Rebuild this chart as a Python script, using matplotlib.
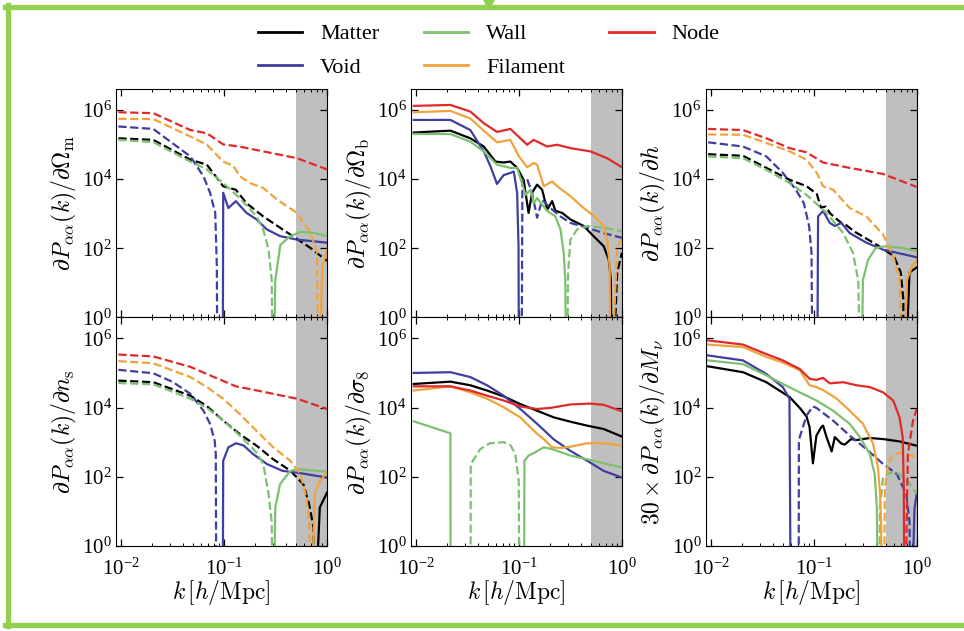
import numpy as np
import matplotlib
matplotlib.use('Agg')
import matplotlib.pyplot as plt
from matplotlib.lines import Line2D
from matplotlib.patches import Polygon

plt.rcParams['font.family'] = 'serif'
plt.rcParams['font.serif'] = ['Liberation Serif', 'DejaVu Serif']
plt.rcParams['mathtext.fontset'] = 'stix'

tracers = ['Matter', 'Void', 'Wall', 'Filament', 'Node']
colors = ['black', '#3f3fa0', '#7bc16f', '#f0a33c', '#e02a2a']

# signed derivatives (negative -> dashed)
# --- d/dOmega_m
k_om_mat = [0.0094, 0.0205, 0.047, 0.068, 0.098, 0.13, 0.165, 0.24, 0.37, 0.51, 0.69, 1.0]
v_om_mat = [-1.5e5, -1.35e5, -3.6e4, -2.6e4, -6.2e3, -4.9e3, -2.0e3, -830, -350, -186, -102, -43]
k_om_void = [0.0094, 0.0205, 0.047, 0.063, 0.073, 0.082, 0.085, 0.086, 0.097, 0.098, 0.11, 0.13, 0.165, 0.207, 0.26, 0.35, 0.51, 1.0]
v_om_void = [-3.3e5, -2.8e5, -4.5e4, -1.2e4, -4e3, -1.05e3, -30, -0.01, 0.01, 4e3, 1.45e3, 2.3e3, 1.05e3, 680, 350, 224, 178, 145]
k_om_wall = [0.0094, 0.0205, 0.047, 0.068, 0.098, 0.142, 0.207, 0.24, 0.27, 0.29, 0.297, 0.303, 0.314, 0.352, 0.44, 0.55, 0.74, 1.0]
v_om_wall = [-1.35e5, -1.17e5, -3.2e4, -1.9e4, -7.6e3, -2.8e3, -830, -350, -91, -12, -0.01, 0.01, 12, 126, 224, 295, 280, 224]
k_om_fil = [0.0094, 0.0205, 0.047, 0.068, 0.098, 0.123, 0.142, 0.18, 0.24, 0.33, 0.51, 0.69, 0.80, 0.82, 0.83, 0.9, 1.0]
v_om_fil = [-5.5e5, -5.4e5, -1.7e5, -9.8e4, -3.2e4, -2.4e4, -1.2e4, -7.6e3, -5.5e3, -2.5e3, -1.05e3, -280, -74, -0.01, 0.01, 30, 90]
k_om_node = [0.0094, 0.0205, 0.047, 0.068, 0.098, 0.14, 0.51, 1.0]
v_om_node = [-8.5e5, -8e5, -2.6e5, -2.1e5, -1.0e5, -8.7e4, -4e4, -1.9e4]

# --- d/dOmega_b
k_ob_mat = [0.0095, 0.0216, 0.0337, 0.0455, 0.059, 0.071, 0.0826, 0.096, 0.111, 0.124, 0.134, 0.15, 0.168, 0.188, 0.21, 0.226, 0.263, 0.316, 0.425, 0.53, 0.665, 0.745, 0.78, 0.80, 0.81, 0.9, 1.0]
v_ob_mat = [2.2e5, 2.5e5, 1.5e5, 8.7e4, 3.2e4, 3e4, 3.2e4, 2.1e4, 9.5e3, 1.05e3, 4e3, 6.9e3, 4.9e3, 1.3e3, 2.3e3, 1.2e3, 1.05e3, 680, 440, 224, 115, 47, 12.6, 0.01, -0.01, -20, -74]
k_ob_void = [0.0095, 0.0216, 0.0337, 0.0455, 0.053, 0.0612, 0.071, 0.0826, 0.089, 0.096, 0.099, 0.1, 0.106, 0.108, 0.12, 0.134, 0.15, 0.168, 0.202, 0.253, 0.316, 0.46, 0.665, 1.0]
v_ob_void = [5.1e5, 5.1e5, 2.6e5, 6.3e4, 2.3e4, 7.2e3, 1.3e4, 1.5e4, 1.65e4, 4e3, 115, 0.01, -0.01, -9.5e3, -1e4, -4e3, -760, -2.5e3, -1.45e3, -830, -540, -390, -275, -200]
k_ob_wall = [0.0095, 0.0216, 0.0337, 0.0455, 0.0612, 0.0826, 0.096, 0.116, 0.13, 0.139, 0.15, 0.188, 0.226, 0.253, 0.272, 0.282, 0.288, 0.292, 0.3, 0.316, 0.367, 0.46, 0.665, 1.0]
v_ob_wall = [2e5, 2e5, 1.2e5, 6.3e4, 2.6e4, 2.1e4, 2.1e4, 3.5e3, 4.9e3, 2e3, 2.8e3, 1.2e3, 830, 350, 74, 12, 0.01, -0.01, -20, -178, -350, -440, -390, -310]
k_ob_fil = [0.0095, 0.0216, 0.0337, 0.0455, 0.0612, 0.0826, 0.1, 0.12, 0.139, 0.15, 0.174, 0.21, 0.24, 0.316, 0.425, 0.56, 0.665, 0.72, 0.76, 0.775, 0.785, 0.9, 1.0]
v_ob_fil = [8.5e5, 9.3e5, 5.6e5, 2.5e5, 1.15e5, 1.35e5, 4.5e4, 2.2e4, 2.9e4, 2.6e4, 6.2e3, 8.5e3, 5.9e3, 3.2e3, 1.45e3, 760, 440, 178, 31, 0.01, -0.01, -115, -178]
k_ob_node = [0.0095, 0.0216, 0.0337, 0.0455, 0.0612, 0.0826, 0.12, 0.139, 0.188, 0.234, 0.316, 0.494, 0.718, 1.0]
v_ob_node = [1.3e6, 1.38e6, 8.9e5, 4.1e5, 2.3e5, 2.8e5, 9.8e4, 1.35e5, 8.7e4, 9.8e4, 7.8e4, 6.3e4, 4e4, 2.2e4]

# --- d/dh
k_h_mat = [0.0094, 0.0205, 0.0346, 0.0583, 0.085, 0.107, 0.117, 0.13, 0.145, 0.185, 0.2, 0.25, 0.43, 0.6, 0.7, 0.74, 0.75, 0.77, 0.85, 1.0]
v_h_mat = [-5.2e4, -4.7e4, -2.1e4, -9.5e3, -6.2e3, -3.7e3, -1.5e3, -1.6e3, -1e3, -540, -500, -300, -115, -59, -20, -3.3, -0.01, 0.01, 20, 28]
k_h_void = [0.0094, 0.0205, 0.0346, 0.05, 0.067, 0.08, 0.09, 0.095, 0.097, 0.108, 0.11, 0.123, 0.143, 0.16, 0.185, 0.223, 0.324, 0.471, 1.0]
v_h_void = [-1.15e5, -8.7e4, -4.5e4, -1.5e4, -4.9e3, -2e3, -440, -74, -0.01, 0.01, 830, 1.2e3, 540, 440, 540, 275, 145, 91, 55]
k_h_wall = [0.0094, 0.0205, 0.0346, 0.0583, 0.085, 0.133, 0.193, 0.24, 0.27, 0.285, 0.29, 0.3, 0.337, 0.4, 0.5, 0.72, 1.0]
v_h_wall = [-4.5e4, -4e4, -1.85e4, -7.6e3, -3.5e3, -1.05e3, -275, -74, -12, -0.01, 0.01, 12, 47, 102, 115, 102, 83]
k_h_fil = [0.0094, 0.0205, 0.0346, 0.0583, 0.085, 0.107, 0.123, 0.154, 0.223, 0.324, 0.471, 0.59, 0.68, 0.73, 0.75, 0.8, 0.9, 1.0]
v_h_fil = [-1.95e5, -1.9e5, -1.1e5, -6.3e4, -3.6e4, -1.5e4, -6.2e3, -4.9e3, -1.45e3, -830, -250, -59, -12, -0.01, 0.01, 12, 30, 45]
k_h_node = [0.0094, 0.0205, 0.0346, 0.0583, 0.085, 0.123, 0.223, 0.471, 1.0]
v_h_node = [-2.8e5, -2.6e5, -1.5e5, -7.8e4, -5.9e4, -3e4, -2.1e4, -1.4e4, -5.9e3]

# --- d/dn_s
k_ns_mat = [0.0094, 0.0205, 0.047, 0.068, 0.098, 0.142, 0.207, 0.3, 0.44, 0.59, 0.67, 0.74, 0.755, 0.765, 0.85, 1.0]
v_ns_mat = [-6e4, -5.4e4, -2.2e4, -1.1e4, -4.2e3, -1.7e3, -790, -320, -150, -60, -16, -3.3, -0.01, 0.01, 13, 35]
k_ns_void = [0.0094, 0.0205, 0.032, 0.047, 0.063, 0.073, 0.081, 0.083, 0.084, 0.097, 0.098, 0.11, 0.13, 0.155, 0.19, 0.26, 0.37, 0.51, 1.0]
v_ns_void = [-1.23e5, -9.8e4, -5.4e4, -2.5e4, -8.1e3, -3.4e3, -1.1e3, -460, -0.01, 0.01, 290, 710, 930, 800, 460, 234, 148, 132, 95]
k_ns_wall = [0.0094, 0.0205, 0.047, 0.068, 0.098, 0.142, 0.207, 0.24, 0.27, 0.29, 0.297, 0.303, 0.314, 0.35, 0.44, 0.51, 1.0]
v_ns_wall = [-5.1e4, -4.7e4, -1.8e4, -9.8e3, -4.2e3, -1.55e3, -500, -234, -32, -5, -0.01, 0.01, 13, 62, 148, 166, 140]
k_ns_fil = [0.0094, 0.0205, 0.047, 0.068, 0.098, 0.142, 0.207, 0.3, 0.44, 0.55, 0.63, 0.67, 0.7, 0.71, 0.76, 0.85, 1.0]
v_ns_fil = [-2.2e5, -1.9e5, -7.6e4, -3.9e4, -1.8e4, -6.5e3, -2.1e3, -710, -290, -120, -25, -5, -0.01, 0.01, 32, 76, 132]
k_ns_node = [0.0094, 0.0205, 0.047, 0.068, 0.13, 0.21, 0.51, 1.0]
v_ns_node = [-3.4e5, -3e5, -1.5e5, -9.3e4, -4.1e4, -3.1e4, -1.8e4, -9.1e3]

# --- d/dsigma_8
k_s8 = [0.0095, 0.0216, 0.0337, 0.049, 0.071, 0.103, 0.15, 0.218, 0.316, 0.46, 0.665, 1.0]
v_s8_mat = [4.8e4, 5.6e4, 4.4e4, 3.1e4, 2.1e4, 1.26e4, 8.1e3, 5.2e3, 3.9e3, 3e3, 2.4e3, 1.45e3]
v_s8_void = [1e5, 1.05e5, 7.6e4, 4.4e4, 2.2e4, 9.1e3, 3.4e3, 1.2e3, 560, 290, 148, 95]
k_s8_wall = [0.0095, 0.0216, 0.0217, 0.0339, 0.034, 0.042, 0.052, 0.071, 0.083, 0.092, 0.0995, 0.101, 0.112, 0.113, 0.124, 0.139, 0.174, 0.21, 0.316, 0.46, 0.665, 1.0]
v_s8_wall = [4e3, 1.8e3, 0.01, -0.01, -230, -630, -930, -1e3, -800, -460, -76, -0.01, 0.01, 290, 410, 480, 710, 630, 410, 320, 245, 186]
k_s8_fil = [0.0095, 0.0216, 0.0337, 0.049, 0.071, 0.103, 0.129, 0.15, 0.174, 0.21, 0.253, 0.316, 0.46, 0.665, 1.0]
v_s8_fil = [3.1e4, 4.1e4, 2.75e4, 1.8e4, 1.02e4, 5.2e3, 2.7e3, 1.74e3, 1.23e3, 710, 680, 740, 930, 930, 800]
k_s8_node = [0.0095, 0.0216, 0.0337, 0.049, 0.071, 0.103, 0.15, 0.204, 0.316, 0.494, 0.665, 1.0]
v_s8_node = [4.1e4, 4.1e4, 3.1e4, 2.2e4, 1.6e4, 1.07e4, 9.1e3, 9.8e3, 1.23e4, 1.3e4, 1.2e4, 7.8e3]

# --- 30 x d/dM_nu
k_mn_mat = [0.0094, 0.0205, 0.0346, 0.0583, 0.073, 0.085, 0.091, 0.098, 0.106, 0.118, 0.123, 0.133, 0.149, 0.16, 0.185, 0.2, 0.23, 0.26, 0.35, 0.47, 0.68, 1.0]
v_mn_mat = [1.55e5, 1.05e5, 5.4e4, 2.0e4, 9.8e3, 5.5e3, 2.7e3, 245, 1.55e3, 2.7e3, 3e3, 1.4e3, 540, 1.4e3, 910, 850, 1.23e3, 1.15e3, 1.32e3, 1.23e3, 1.05e3, 790]
k_mn_void = [0.0094, 0.0205, 0.0346, 0.05, 0.058, 0.0597, 0.0712, 0.0716, 0.073, 0.085, 0.098, 0.106, 0.154, 0.223, 0.324, 0.471, 0.64, 0.79, 0.85, 0.87, 0.89, 0.95, 1.0]
v_mn_void = [3.2e5, 2.3e5, 9.3e4, 3.9e4, 1.8e4, 0.01, -0.01, -1e3, -1.4e3, -5.9e3, -1.07e4, -9.8e3, -4.2e3, -1.55e3, -630, -234, -120, -32, -5, -0.01, 0.01, 12, 32]
k_mn_wall = [0.0094, 0.0205, 0.0346, 0.05, 0.073, 0.106, 0.154, 0.223, 0.28, 0.35, 0.39, 0.41, 0.42, 0.43, 0.44, 0.47, 0.55, 0.68, 0.86, 1.0]
v_mn_wall = [2.3e5, 1.8e5, 8.5e4, 4.8e4, 2.75e4, 1.6e4, 8.1e3, 3.4e3, 1.4e3, 457, 120, 13, 0.01, -0.01, -13, -95, -132, -120, -62, -32]
k_mn_fil = [0.0094, 0.0205, 0.0346, 0.05, 0.073, 0.091, 0.106, 0.123, 0.167, 0.223, 0.3, 0.377, 0.42, 0.44, 0.45, 0.46, 0.48, 0.49, 0.527, 0.59, 0.73, 1.0]
v_mn_fil = [6.6e5, 5.6e5, 2.9e5, 2e5, 1.2e5, 4.4e4, 3.9e4, 3.2e4, 1.8e4, 8.1e3, 3.4e3, 890, 186, 32, 5, 0.01, -0.01, -49, -234, -457, -500, -363]
k_mn_node = [0.0094, 0.0205, 0.0346, 0.05, 0.073, 0.091, 0.106, 0.123, 0.143, 0.193, 0.26, 0.35, 0.471, 0.59, 0.68, 0.73, 0.748, 0.758, 0.77, 0.82, 0.92, 1.0]
v_mn_node = [8.7e5, 6.6e5, 3.5e5, 2.3e5, 1.3e5, 6.8e4, 6.3e4, 7.2e4, 5e4, 5.4e4, 4.4e4, 3.9e4, 2.75e4, 1.6e4, 5.2e3, 1.4e3, 50, 0.01, -0.01, -460, -4.2e3, -9.1e3]

panels = [
    [(k_om_mat, v_om_mat), (k_om_void, v_om_void), (k_om_wall, v_om_wall), (k_om_fil, v_om_fil), (k_om_node, v_om_node)],
    [(k_ob_mat, v_ob_mat), (k_ob_void, v_ob_void), (k_ob_wall, v_ob_wall), (k_ob_fil, v_ob_fil), (k_ob_node, v_ob_node)],
    [(k_h_mat, v_h_mat), (k_h_void, v_h_void), (k_h_wall, v_h_wall), (k_h_fil, v_h_fil), (k_h_node, v_h_node)],
    [(k_ns_mat, v_ns_mat), (k_ns_void, v_ns_void), (k_ns_wall, v_ns_wall), (k_ns_fil, v_ns_fil), (k_ns_node, v_ns_node)],
    [(k_s8, v_s8_mat), (k_s8, v_s8_void), (k_s8_wall, v_s8_wall), (k_s8_fil, v_s8_fil), (k_s8_node, v_s8_node)],
    [(k_mn_mat, v_mn_mat), (k_mn_void, v_mn_void), (k_mn_wall, v_mn_wall), (k_mn_fil, v_mn_fil), (k_mn_node, v_mn_node)],
]
ylabels = [r'$\partial P_{\alpha\alpha}(k)/\partial\Omega_{\mathrm{m}}$',
           r'$\partial P_{\alpha\alpha}(k)/\partial\Omega_{\mathrm{b}}$',
           r'$\partial P_{\alpha\alpha}(k)/\partial h$',
           r'$\partial P_{\alpha\alpha}(k)/\partial n_{\mathrm{s}}$',
           r'$\partial P_{\alpha\alpha}(k)/\partial \sigma_8$',
           r'$30\times\partial P_{\alpha\alpha}(k)/\partial M_\nu$']


def trace(ax, k, v, c):
    # split the curve where the sign flips: solid if positive, dashed if negative
    k = np.array(k)
    v = np.array(v)
    pos = v > 0
    i0 = 0
    for i in range(1, len(v) + 1):
        if i == len(v) or pos[i] != pos[i0]:
            ax.plot(k[i0:i], np.abs(v[i0:i]), color=c, lw=1.6,
                    ls='-' if pos[i0] else '--')
            i0 = i


fig, axes = plt.subplots(2, 3, figsize=(9.64, 6.31), dpi=100, sharex=True)
fig.subplots_adjust(left=0.1208, right=0.951, top=0.859, bottom=0.1347, wspace=0.4, hspace=0)

for n, ax in enumerate(axes.flat):
    ax.axvspan(0.5, 1.0, color='grey', alpha=0.5, lw=0, zorder=0)
    for (k, v), c in zip(panels[n], colors):
        trace(ax, k, v, c)
    ax.set_xscale('log')
    ax.set_yscale('log')
    ax.set_xlim(0.009, 1.0)
    ax.set_ylim(1, 4e6)
    ax.set_yticks([1, 1e2, 1e4, 1e6])
    ax.yaxis.set_minor_locator(matplotlib.ticker.NullLocator())
    ax.tick_params(which='both', direction='in', top=True, right=True, labelsize=15)
    ax.tick_params(which='major', length=5, width=0.9)
    ax.tick_params(which='minor', length=2.5, width=0.7)
    ax.tick_params(axis='x', which='major', pad=9)
    ax.set_ylabel(ylabels[n], fontsize=17, math_fontfamily='cm', labelpad=2)
    if n >= 3:
        ax.set_xlabel(r'$k\,[h/\mathrm{Mpc}]$', fontsize=17, math_fontfamily='cm', labelpad=-1)

handles = [Line2D([], [], color=c, lw=2) for c in colors]
fig.legend(handles, tracers, ncol=3, loc='upper center', bbox_to_anchor=(0.507, 0.994),
           frameon=False, fontsize=16, handlelength=2.0, columnspacing=2.0,
           handletextpad=0.8, labelspacing=0.6)

# green frame around the figure
fc = '#92d050'
fig.add_artist(Line2D([7.5 / 964, 7.5 / 964], [1 - 5 / 631, 1 - 626 / 631], transform=fig.transFigure, color=fc, lw=3.8))
fig.add_artist(Line2D([5 / 964, 1.0], [1 - 6.5 / 631, 1 - 6.5 / 631], transform=fig.transFigure, color=fc, lw=3.8))
fig.add_artist(Line2D([5 / 964, 1.0], [1 - 624.5 / 631, 1 - 624.5 / 631], transform=fig.transFigure, color=fc, lw=3.8))
fig.add_artist(Polygon([[484 / 964, 1.0], [494 / 964, 1.0], [489 / 964, 1 - 10 / 631]],
                       closed=True, transform=fig.transFigure, color=fc))

fig.savefig('out.png', dpi=100)
